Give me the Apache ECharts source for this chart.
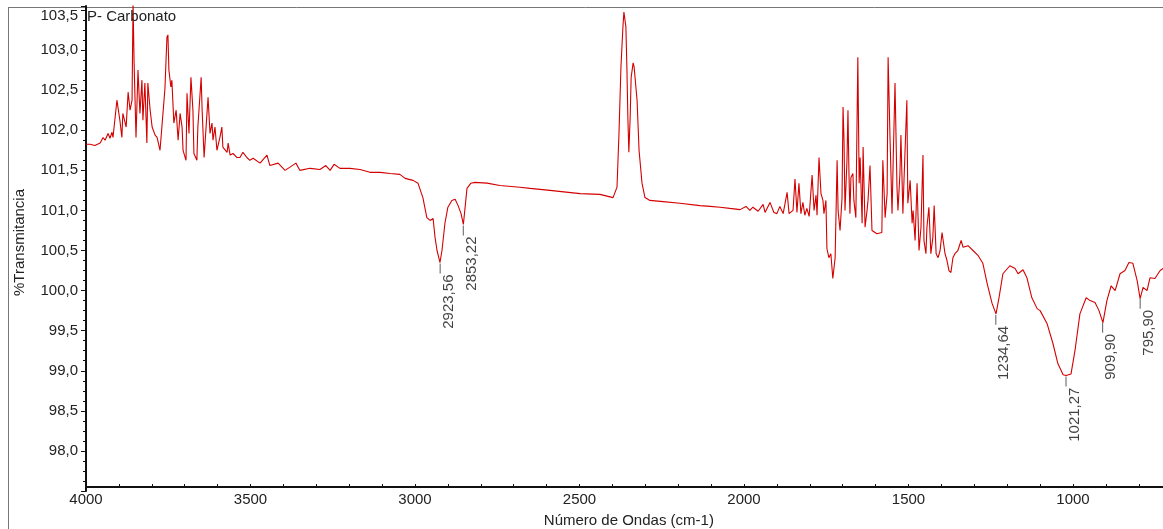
<!DOCTYPE html>
<html>
<head>
<meta charset="utf-8">
<script src="https://cdn.jsdelivr.net/npm/echarts@6/dist/echarts.min.js"></script>
<style>
html,body{margin:0;padding:0;background:#fff;}
#chart{width:1163px;height:529px;}
</style>
</head>
<body>
<div id="chart"></div>
<script>
// ---- Data: [wavenumber cm-1, %T] ----
const ohRegion = [
[4000,101.825],[3988,101.825],[3973,101.81],[3957,101.84],[3948,101.91],[3942,101.875],
[3933,101.96],[3927,101.9],[3921,101.975],[3918,101.91],[3912,101.9],[3906,102.375],
[3897,102.125],[3891,101.91],[3888,102.21],[3878,102.04],[3872,102.475],[3866,102.25],
[3860,102.375],[3857,103.6],[3854,102.875],[3848,101.91],[3842,102.75],[3836,102.21],
[3830,102.625],[3827,102.125],[3821,102.59],[3815,101.84],[3812,102.59],[3805,102.25],
[3799,102.04],[3790,101.94],[3784,101.91],[3775,101.75],[3769,102.06],[3766,102.04],
[3760,102.525],[3754,103.16],[3751,103.19],[3748,102.75],[3742,102.54],[3739,102.625],
[3733,102.09],[3726,102.25],[3720,101.875],[3714,102.21],[3708,102.04],[3705,101.75],
[3696,101.625],[3693,102.46],[3687,101.96],[3681,102.66],[3675,102.25],[3672,101.71],
[3663,101.625],[3660,102.04],[3650,102.66],[3647,102.25],[3641,101.66],[3635,102.04],
[3629,102.41],[3623,101.96],[3617,102.09],[3614,101.875],[3608,102.04],[3602,101.75],
[3593,101.91],[3587,102.04],[3584,101.79],[3571,101.725],[3568,101.84],[3562,101.69],
[3553,101.71],[3541,101.66],[3532,101.66],[3523,101.725],[3511,101.66],[3502,101.625],
[3492,101.65],[3471,101.59],[3450,101.69],[3441,101.56],[3416,101.59],[3395,101.5],
[3380,101.54],[3362,101.59],[3350,101.5],[3319,101.525],[3289,101.51],[3271,101.56],
[3258,101.5],[3246,101.575],[3228,101.525],[3198,101.525],[3167,101.51],[3137,101.475],
[3106,101.475],[3076,101.46],[3046,101.45],[3030,101.4],[3006,101.375],[2991,101.34]
];
const chRegion = [
[2976,101.16],[2964,100.91],[2954,100.875],[2945,100.9],[2939,100.66],[2933,100.5],
[2924,100.35],[2918,100.5],[2909,100.84],[2900,101.04],[2888,101.125],[2878,101.14],
[2869,101.06],[2860,100.96],[2853,100.825],[2848,101.025],[2842,101.275],[2830,101.34],
[2818,101.35],[2781,101.34],[2742,101.31],[2681,101.29],[2650,101.275],[2590,101.25],
[2498,101.21],[2438,101.2],[2398,101.16]
];
const co2Region = [
[2386,101.29],[2380,101.96],[2374,102.79],[2368,103.29],[2365,103.475],[2359,103.29],
[2356,102.79],[2353,102.16],[2350,101.725],[2346,102.16],[2343,102.66],[2337,102.84],
[2334,102.79],[2325,102.375],[2319,101.75],[2310,101.34],[2301,101.16],[2286,101.125],
[2246,101.11],[2195,101.09],[2134,101.06],[2103,101.05],[2073,101.04],[2043,101.025],
[2012,101.01]
];
const waterRegion = [
[1994,101.05],[1982,101.0],[1973,101.04],[1957,100.99],[1942,101.075],[1936,100.975],
[1921,101.1],[1909,100.975],[1900,100.96],[1891,101.05],[1881,100.96],[1869,101.225],
[1863,100.96],[1851,101.0],[1845,101.39],[1839,100.975],[1833,101.34],[1827,100.96],
[1821,101.1],[1815,100.94],[1809,101.025],[1802,100.925],[1793,101.44],[1787,101.0],
[1781,101.19],[1778,100.94],[1772,101.66],[1766,101.21],[1760,101.125],[1757,100.96],
[1751,101.125],[1748,100.525],[1742,100.41],[1736,100.46],[1730,100.15],[1723,100.41],
[1717,101.625],[1714,101.0],[1708,100.75],[1702,101.16],[1699,102.29],[1696,101.875],
[1693,101.0],[1687,101.625],[1684,102.25],[1681,101.46],[1678,100.96],[1675,101.41],
[1669,101.46],[1666,101.125],[1660,100.91],[1654,102.91],[1650,101.34],[1647,101.66],
[1641,100.84],[1638,101.79],[1632,100.79],[1626,101.0],[1623,101.125],[1617,101.56],
[1611,100.75],[1596,100.71],[1581,100.725],[1578,101.625],[1571,100.91],[1565,101.21],
[1562,102.91],[1556,101.875],[1550,100.96],[1547,101.54],[1541,102.59],[1535,101.29],
[1532,101.0],[1526,101.46],[1523,101.94],[1517,100.96],[1514,101.34],[1505,102.375],
[1502,101.09],[1495,101.375],[1489,100.84],[1486,101.0],[1480,100.625],[1474,101.34],
[1468,100.5],[1462,100.79],[1456,101.69],[1453,100.625],[1447,100.46],[1444,100.79],
[1438,101.04],[1432,100.46],[1426,100.66],[1422,101.06],[1416,100.46],[1410,100.41],
[1404,100.5],[1398,100.725],[1395,100.71],[1389,100.46],[1383,100.375],[1377,100.25],
[1371,100.225],[1365,100.41],[1359,100.46]
];
const fingerprintRegion = [
[1350,100.5],[1340,100.625],[1334,100.54],[1319,100.56],[1304,100.5],[1289,100.44],
[1274,100.34],[1261,100.09],[1246,99.84],[1234,99.71],[1225,99.91],[1213,100.21],
[1192,100.31],[1176,100.275],[1167,100.21],[1152,100.26],[1140,100.16],[1125,99.91],
[1109,99.775],[1100,99.75],[1079,99.59],[1061,99.34],[1046,99.09],[1030,98.95],
[1021,98.94],[1006,98.96],[994,99.25],[979,99.71],[960,99.91],[948,99.875],
[933,99.85],[921,99.75],[909,99.6],[897,99.875],[884,100.06],[872,100.0],
[857,100.21],[842,100.25],[830,100.35],[818,100.34],[805,100.125],[796,99.9],
[787,100.04],[775,100.0],[766,100.16],[751,100.15],[735,100.25],[726,100.275],[712,100.3]
];
// Peak annotations
const peakLabels = ['2923,56','2853,22','1234,64','1021,27','909,90','795,90'];
const peakWn     = [2923.56, 2853.22, 1234.64, 1021.27, 909.90, 795.90];
const peakT      = [100.35, 100.825, 99.71, 98.94, 99.61, 99.91];

const spectrum = [].concat(ohRegion, chRegion, co2Region, waterRegion, fingerprintRegion);
const peaks = peakWn.map((w, i) => ({ value: [w, peakT[i]], name: peakLabels[i] }));

const FONT = 'Liberation Sans';
const chart = echarts.init(document.getElementById('chart'), null, { renderer: 'canvas' });
chart.setOption({
  animation: false,
  backgroundColor: '#fff',
  title: {
    text: 'P- Carbonato', left: 87, top: 9, padding: 0,
    textStyle: { fontFamily: FONT, fontSize: 15, fontWeight: 'normal', color: '#222' }
  },
  graphic: [
    { type: 'line', shape: { x1: 8, y1: 7.5, x2: 1163, y2: 7.5 }, style: { stroke: '#777', lineWidth: 1 }, z: 0 },
    { type: 'line', shape: { x1: 8.5, y1: 7, x2: 8.5, y2: 529 }, style: { stroke: '#777', lineWidth: 1 }, z: 0 }
  ],
  grid: { left: 86, top: 6, width: 1085.7, height: 485, containLabel: false, outerBoundsMode: 'none' },
  xAxis: {
    type: 'value', inverse: true, min: 700, max: 4000, interval: 100,
    offset: -4,
    name: 'Número de Ondas (cm-1)', nameLocation: 'middle', nameGap: 26,
    nameTextStyle: { fontFamily: FONT, fontSize: 15, color: '#222' },
    axisLine: { lineStyle: { color: '#111', width: 2 } },
    axisTick: { inside: true, length: 3, lineStyle: { color: '#111' } },
    axisLabel: {
      interval: 0, margin: 5, fontFamily: FONT, fontSize: 15, color: '#222',
      formatter: v => (Math.round(v) % 500 === 0 ? String(Math.round(v)) : '')
    },
    splitLine: { show: false }
  },
  yAxis: {
    type: 'value', min: 97.5, max: 103.55, interval: 0.5,
    name: '%Transmitancia', nameLocation: 'middle', nameGap: 59, nameRotate: 90,
    nameTextStyle: { fontFamily: FONT, fontSize: 15, color: '#222', padding: [0, 0, 0, 12] },
    axisLine: { lineStyle: { color: '#111', width: 2 } },
    axisTick: { length: 5, lineStyle: { color: '#111' } },
    minorTick: { show: true, splitNumber: 4, length: 3, lineStyle: { color: '#111' } },
    axisLabel: {
      margin: 8, fontFamily: FONT, fontSize: 15, color: '#222',
      formatter: v => {
        if (Math.abs(v * 2 - Math.round(v * 2)) > 1e-6 || v < 97.9) return '';
        const s = v.toFixed(1).replace('.', ',');
        return v > 103.4 ? '{t|' + s + '}' : s;
      },
      rich: { t: { fontFamily: FONT, fontSize: 15, color: '#222', padding: [12, 0, 0, 0] } }
    },
    splitLine: { show: false }
  },
  series: [
    {
      type: 'line', data: spectrum, showSymbol: false, symbol: 'none',
      lineStyle: { color: '#d40000', width: 1.1 }, clip: true, z: 3
    },
    {
      type: 'scatter', data: peaks, symbol: 'rect', symbolSize: [1, 10], symbolOffset: [0, 6],
      itemStyle: { color: '#333' }, z: 4,
      label: {
        show: true, formatter: p => p.name, rotate: 90, position: [9, 11],
        align: 'right', verticalAlign: 'middle',
        fontFamily: FONT, fontSize: 15, color: '#111'
      }
    }
  ]
});
</script>
</body>
</html>
